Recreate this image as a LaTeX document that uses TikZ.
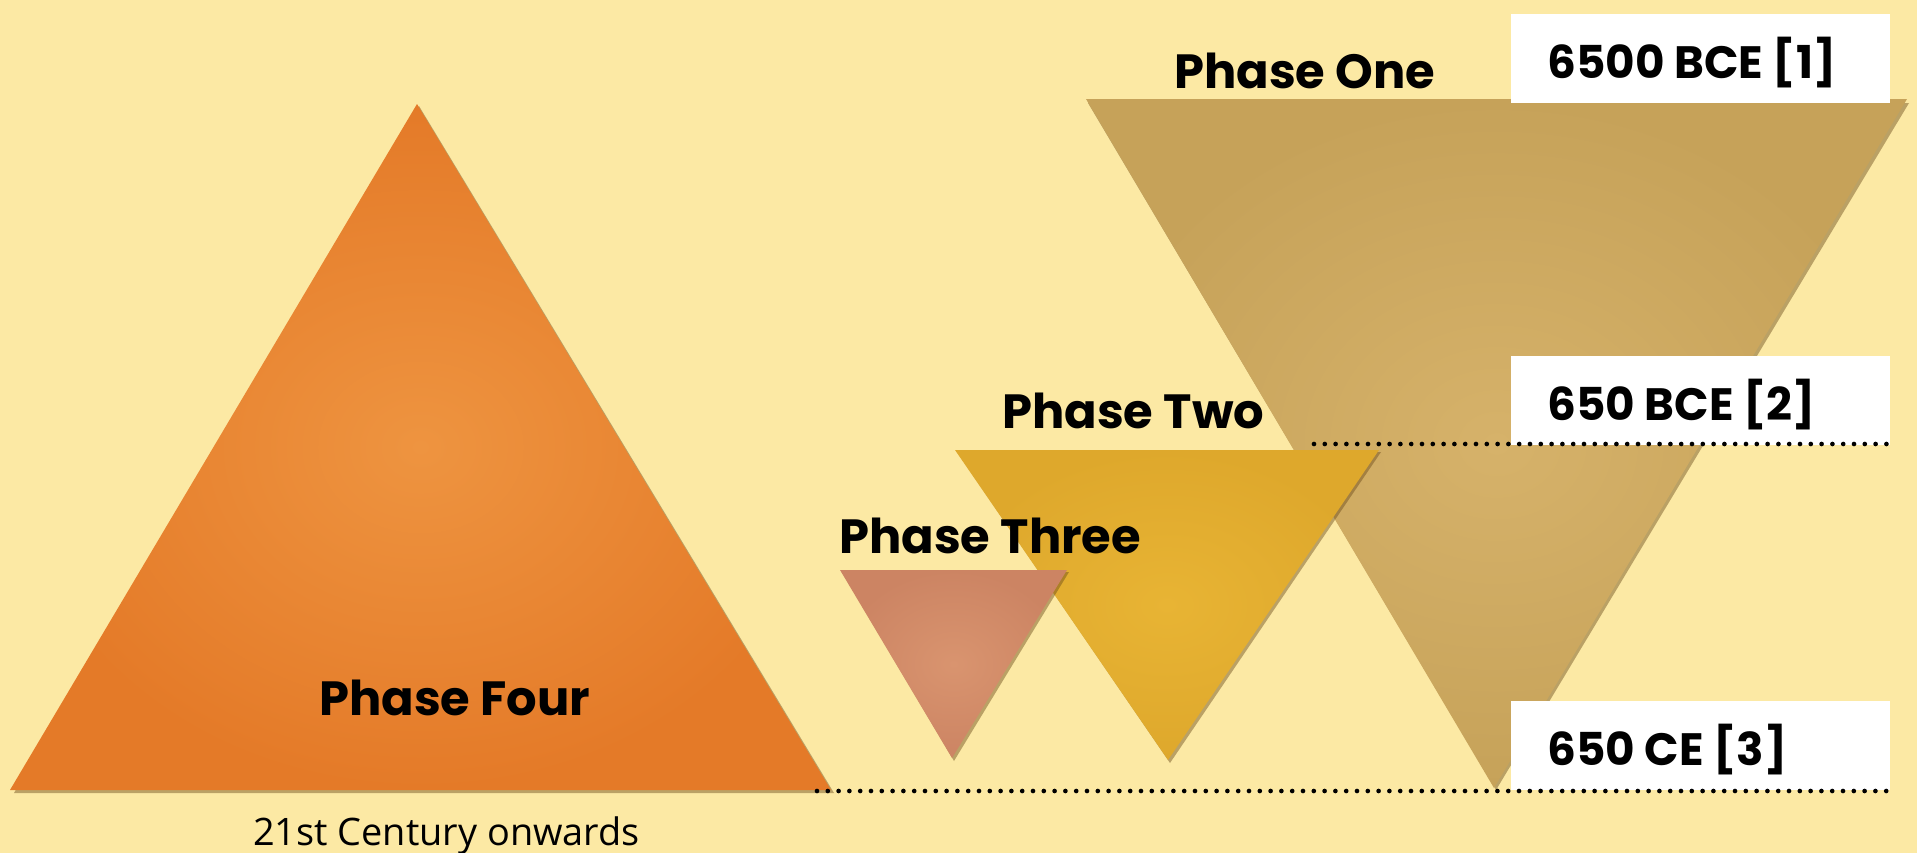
\documentclass[tikz,border=0pt]{standalone}
\usepackage{fontspec}
\newfontfamily\pop{Poppins}
\newfontfamily\osans{Open Sans}
\definecolor{bg}{HTML}{FCE9A4}
\definecolor{c1}{HTML}{D6B26A}
\definecolor{c1d}{HTML}{C6A259}
\definecolor{c2}{HTML}{E8B434}
\definecolor{c2d}{HTML}{DEA82C}
\definecolor{c3}{HTML}{D9946F}
\definecolor{c3d}{HTML}{CC8463}
\definecolor{c4}{HTML}{EE9440}
\definecolor{c4d}{HTML}{E47A28}
\definecolor{shd}{HTML}{6B4A1A}
\tikzset{
  lab/.style={font=\pop\bfseries\fontsize{36}{40}\selectfont, text=black, inner sep=0pt},
  sub/.style={font=\osans\fontsize{28.4}{32}\selectfont, text=black, inner sep=0pt},
  datebox/.style={fill=white, anchor=north west, minimum height=66.75pt, minimum width=284.25pt,
     inner sep=0pt},
  datetext/.style={font=\pop\bfseries\fontsize{34}{40}\selectfont, text=black, inner sep=0pt, anchor=west},
  dotline/.style={line width=3.5pt, line cap=round, dash pattern=on 0pt off 8.1pt, black},
  tshadow/.style={fill=shd, opacity=0.45},
}
\begin{document}
\begin{tikzpicture}[x=0.75pt,y=-0.75pt]
\useasboundingbox (0,0) rectangle (1917,853);
\fill[bg] (0,0) rectangle (1917,853);

% Phase One (inverted, large)
\fill[tshadow] (1088,103) -- (1909,103) -- (1496,790) -- cycle;
\shade[inner color=c1, outer color=c1d] (1086,99) -- (1907,99) -- (1494,788) -- cycle;

% Phase Two
\fill[tshadow] (957,452) -- (1381,452) -- (1170,763) -- cycle;
\shade[inner color=c2, outer color=c2d] (955,450) -- (1379,450) -- (1168,760) -- cycle;

% Phase Three
\fill[tshadow] (842,572) -- (1069,572) -- (954,761) -- cycle;
\shade[inner color=c3, outer color=c3d] (840,570) -- (1067,570) -- (952,758) -- cycle;

% Phase Four
\fill[tshadow] (14,793) -- (419,106) -- (834,793) -- cycle;
\shade[inner color=c4, outer color=c4d] (10,790) -- (417,104) -- (831,790) -- cycle;

% labels
\node[lab, anchor=base west] (p1) at (1174,88) {Phase One};
\node[lab, anchor=base west] (p2) at (1002,428) {Phase Two};
\node[lab, anchor=base west] (p3) at (839,553) {Phase Three};
\node[lab, anchor=base west] (p4) at (319,715) {Phase Four};
\node[sub, anchor=base west] (p4s) at (253,845) {21st Century onwards};

% date boxes
\node[datebox] (b1) at (1511,14) {};
\node[datebox] (b2) at (1511,356) {};
\node[datebox] (b3) at (1511,701) {};
\node[datetext] (t1) at ([xshift=27pt,yshift=-3pt]b1.west) {6500 BCE [1]};
\node[datetext] (t2) at ([xshift=27pt,yshift=-3pt]b2.west) {650 BCE [2]};
\node[datetext] (t3) at ([xshift=27pt,yshift=-3pt]b3.west) {650 CE [3]};

% dotted lines
\coordinate (d1a) at (1314,444);
\coordinate (d1b) at (1893,444);
\coordinate (d2a) at (817,791);
\coordinate (d2b) at (1893,791);
\draw[dotline] (d1a) -- (d1b);
\draw[dotline] (d2a) -- (d2b);
\end{tikzpicture}
\end{document}
